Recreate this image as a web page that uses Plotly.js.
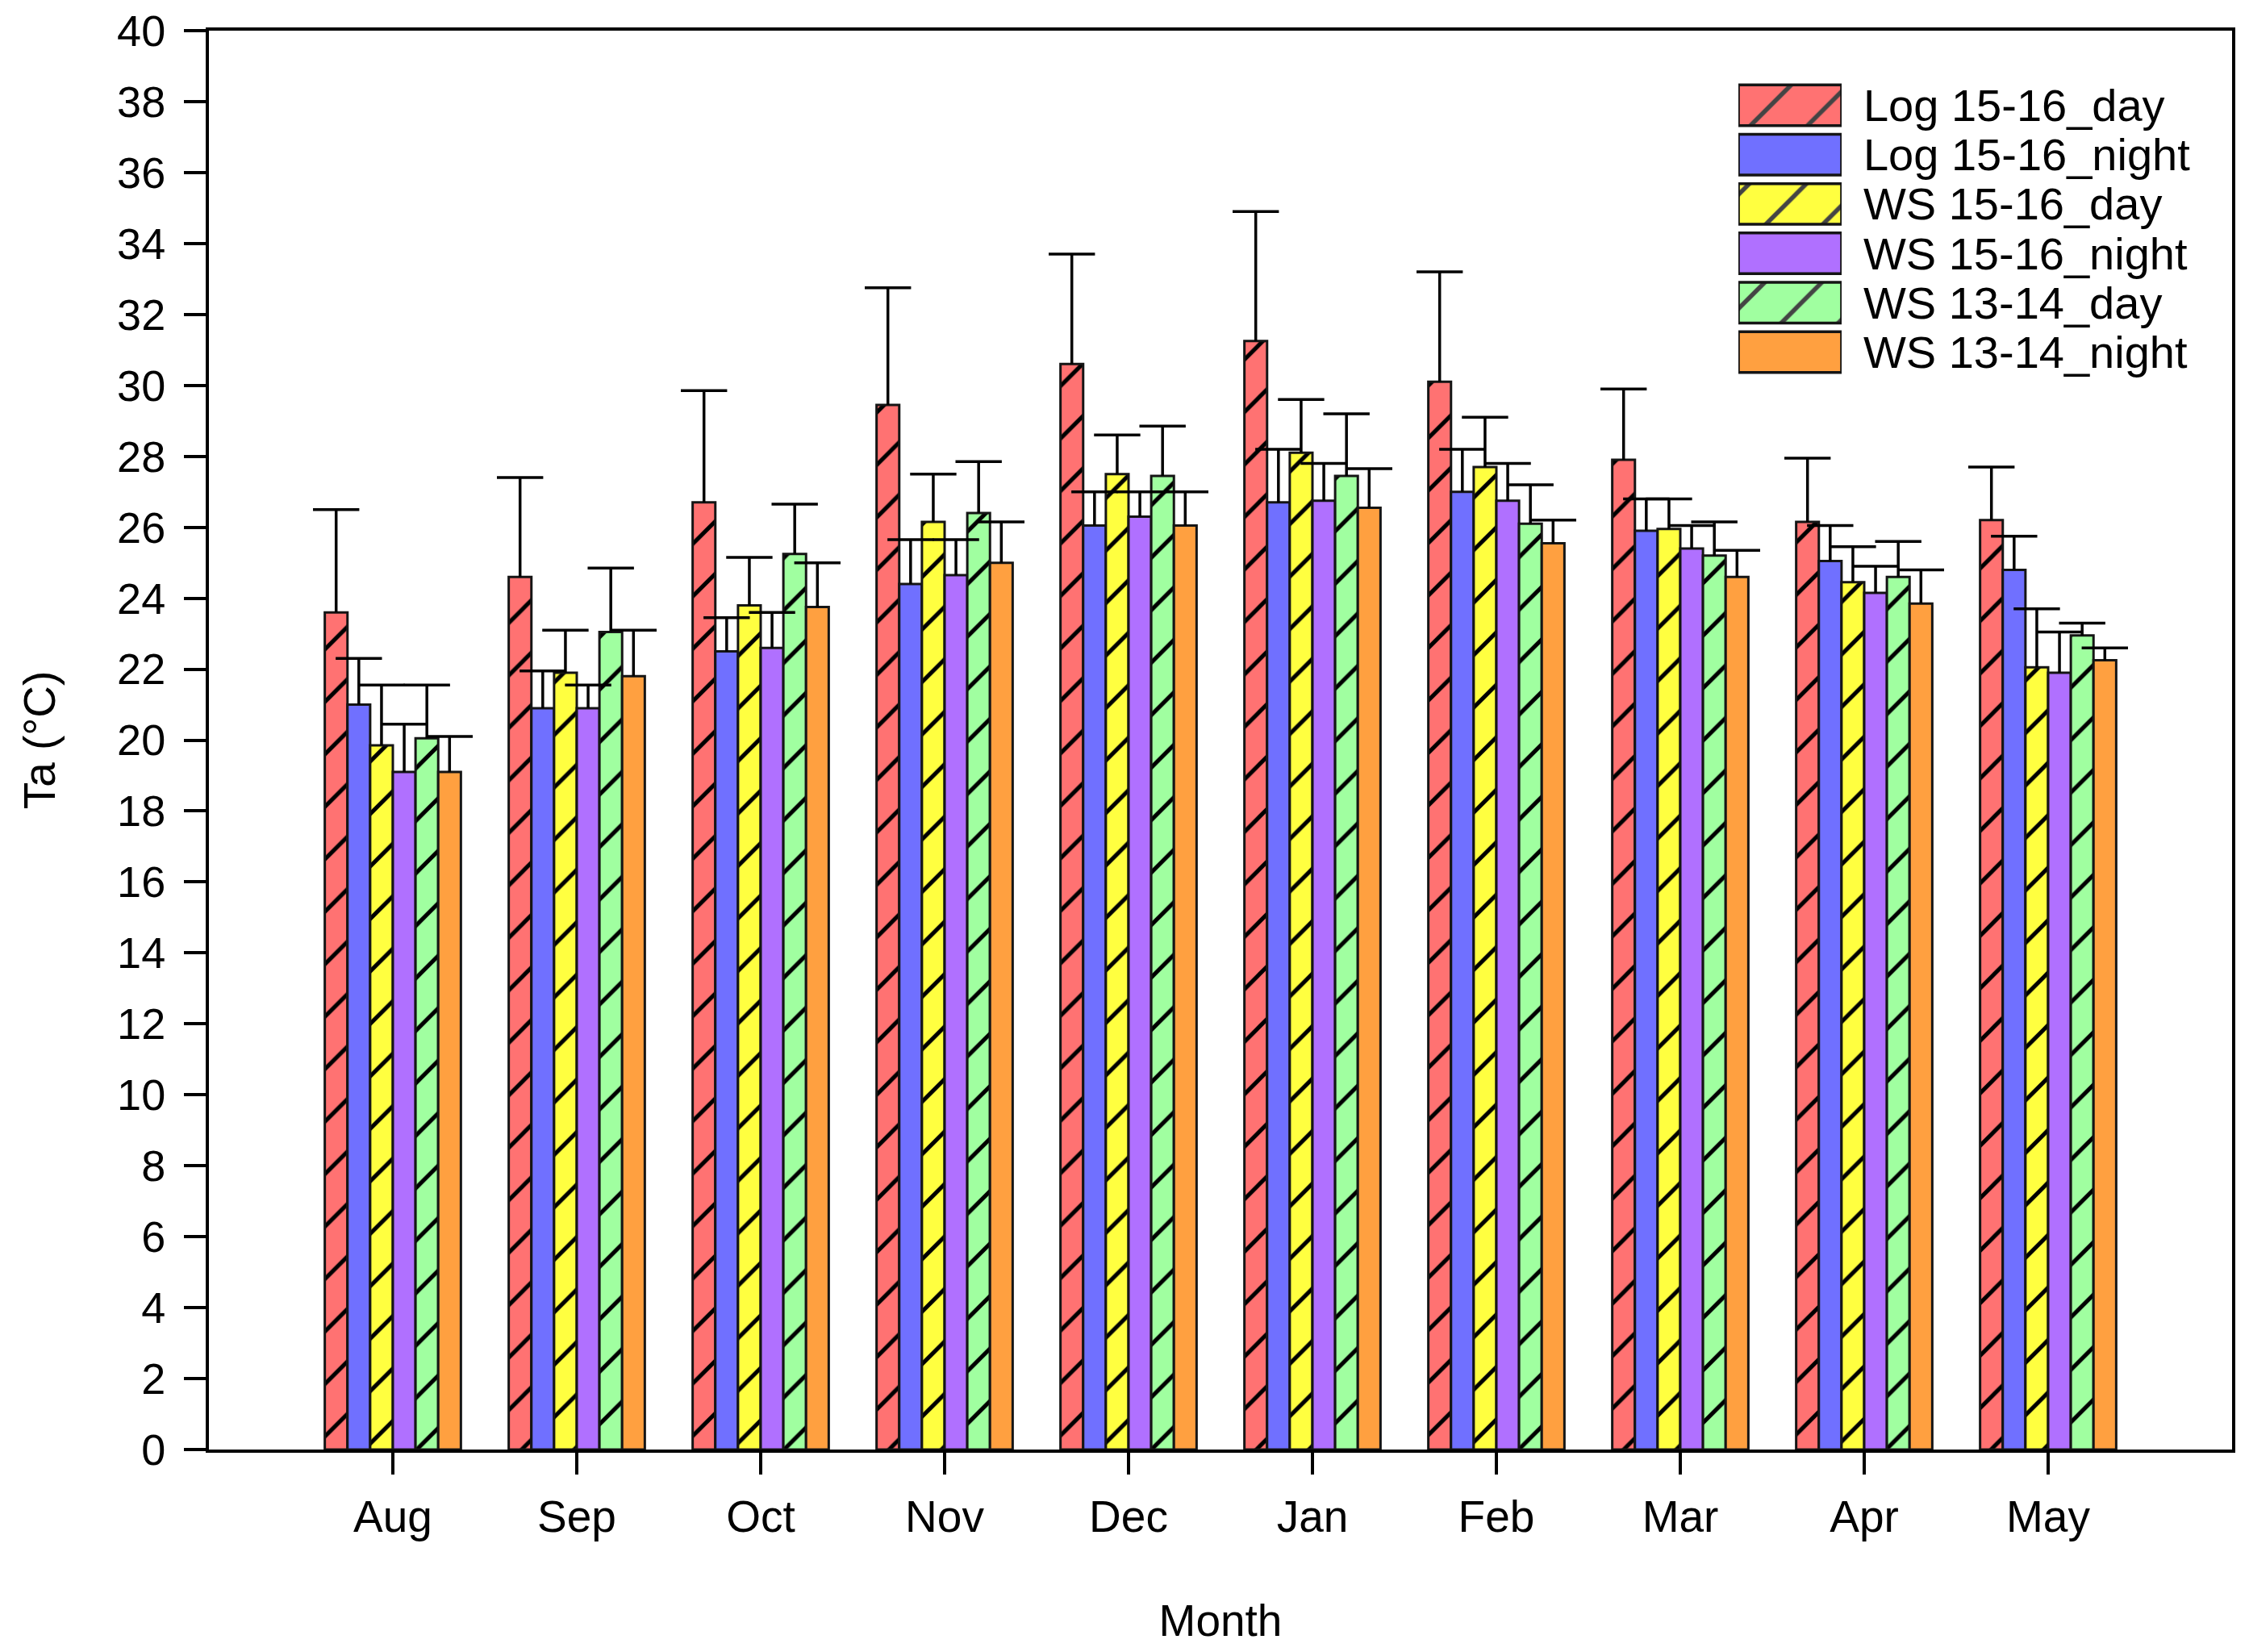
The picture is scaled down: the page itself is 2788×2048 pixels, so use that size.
<!DOCTYPE html>
<html>
<head>
<meta charset="utf-8">
<script src="https://cdn.plot.ly/plotly-3.0.1.min.js"></script>
<style>html,body{margin:0;padding:0;background:#fff;}</style>
</head>
<body>
<div id="chart" style="width:2788px;height:2048px;"></div>
<script>
// ---- data ----
const months = ['Aug','Sep','Oct','Nov','Dec','Jan','Feb','Mar','Apr','May'];
const seriesNames = ['Log 15-16_day','Log 15-16_night','WS 15-16_day','WS 15-16_night','WS 13-14_day','WS 13-14_night'];

const log1516Day     = [23.6, 24.6, 26.7, 29.45, 30.6, 31.25, 30.1, 27.9, 26.15, 26.2];
const log1516DaySD   = [2.9, 2.8, 3.15, 3.3, 3.1, 3.65, 3.1, 2.0, 1.8, 1.5];
const log1516Night   = [21.0, 20.9, 22.5, 24.4, 26.05, 26.7, 27.0, 25.9, 25.05, 24.8];
const log1516NightSD = [1.3, 1.05, 0.95, 1.25, 0.95, 1.5, 1.2, 0.9, 1.0, 0.95];
const ws1516Day      = [19.85, 21.9, 23.8, 26.15, 27.5, 28.1, 27.7, 25.95, 24.45, 22.05];
const ws1516DaySD    = [1.7, 1.2, 1.35, 1.35, 1.1, 1.5, 1.4, 0.85, 1.0, 1.65];
const ws1516Night    = [19.1, 20.9, 22.6, 24.65, 26.3, 26.75, 26.75, 25.4, 24.15, 21.9];
const ws1516NightSD  = [1.35, 0.65, 1.0, 1.0, 0.7, 1.05, 1.05, 0.65, 0.75, 1.15];
const ws1314Day      = [20.05, 23.05, 25.25, 26.4, 27.45, 27.45, 26.1, 25.2, 24.6, 22.95];
const ws1314DaySD    = [1.5, 1.8, 1.4, 1.45, 1.4, 1.75, 1.1, 0.95, 1.0, 0.35];
const ws1314Night    = [19.1, 21.8, 23.75, 25.0, 26.05, 26.55, 25.55, 24.6, 23.85, 22.25];
const ws1314NightSD  = [1.0, 1.3, 1.25, 1.15, 0.95, 1.1, 0.65, 0.75, 0.95, 0.35];

// ---- styles ----
const colors = ['#FF7272','#7070FF','#FFFF40','#B070FF','#A0FFA0','#FFA040'];
const hatched = [true,false,true,false,true,false];
const FONT = 'Liberation Sans, Arial, Helvetica, sans-serif';

const values = [log1516Day, log1516Night, ws1516Day, ws1516Night, ws1314Day, ws1314Night];
const sds = [log1516DaySD, log1516NightSD, ws1516DaySD, ws1516NightSD, ws1314DaySD, ws1314NightSD];

const barTraces = values.map((v, i) => ({
  type: 'bar',
  name: seriesNames[i],
  x: months,
  y: v,
  xaxis: 'x', yaxis: 'y',
  offsetgroup: String(i),
  showlegend: false,
  hoverinfo: 'skip',
  marker: {
    color: colors[i],
    line: {color: '#151515', width: 3},
    pattern: hatched[i]
      ? {shape: '/', fillmode: 'overlay', fgcolor: '#000000', fgopacity: 1, size: 46, solidity: 0.11}
      : {shape: ''}
  }
}));

// upper error whiskers, drawn on top of all bars (grouped like the bars)
const errTraces = values.map((v, i) => ({
  type: 'scatter',
  mode: 'markers',
  x: months,
  y: v.map((m, k) => m + sds[i][k]),
  xaxis: 'x', yaxis: 'y',
  offsetgroup: String(i),
  showlegend: false,
  hoverinfo: 'skip',
  cliponaxis: false,
  marker: {symbol: 'line-ew', size: 41, color: '#000', line: {color: '#000', width: 3.5}},
  error_y: {
    type: 'data', symmetric: false,
    array: sds[i].map(() => 0), arrayminus: sds[i],
    color: '#000000', thickness: 3.5, width: 0
  }
}));

// legend drawn as a small horizontal bar chart
const legendTrace = {
  type: 'bar',
  orientation: 'h',
  x: seriesNames.map(() => 1),
  y: seriesNames,
  width: 0.825,
  xaxis: 'x2', yaxis: 'y2',
  showlegend: false,
  hoverinfo: 'skip',
  marker: {
    color: colors,
    line: {color: '#151515', width: 3.5},
    pattern: {
      shape: hatched.map(h => h ? '/' : ''),
      fillmode: 'overlay', fgcolor: '#000000', fgopacity: 1, size: 50, solidity: 0.11
    }
  }
};

const layout = {
  width: 2788, height: 2048, autosize: false,
  margin: {l: 259, r: 21, t: 38, b: 251, pad: 0},
  paper_bgcolor: '#ffffff', plot_bgcolor: '#ffffff',
  font: {family: FONT, size: 52, color: '#000000'},
  showlegend: false,
  barmode: 'group', bargap: 0.26, bargroupgap: 0,
  scattermode: 'group', scattergap: 0.26,
  xaxis: {
    type: 'category', range: [-1, 10], domain: [0, 1],
    showgrid: false, zeroline: false,
    showline: true, linewidth: 4, linecolor: '#000', mirror: true,
    ticks: 'outside', ticklen: 27, tickwidth: 4, tickcolor: '#000',
    tickfont: {family: FONT, size: 55, color: '#000'},
    ticklabelstandoff: 5,
    title: {text: 'Month', font: {family: FONT, size: 55, color: '#000'}, standoff: 80},
    fixedrange: true
  },
  yaxis: {
    range: [0, 40], dtick: 2, tick0: 0, domain: [0, 1],
    showgrid: false, zeroline: false,
    showline: true, linewidth: 4, linecolor: '#000', mirror: true,
    ticks: 'outside', ticklen: 27, tickwidth: 4, tickcolor: '#000',
    tickfont: {family: FONT, size: 54, color: '#000'},
    ticklabelstandoff: 12,
    title: {text: 'Ta (°C)', font: {family: FONT, size: 55, color: '#000'}, standoff: 60},
    fixedrange: true
  },
  xaxis2: {
    domain: [0.756, 0.807], range: [0, 1], anchor: 'y2',
    visible: false, fixedrange: true
  },
  yaxis2: {
    domain: [0.7561, 0.9648], type: 'category', autorange: 'reversed', anchor: 'x2',
    side: 'right', showline: false, showgrid: false, zeroline: false, ticks: '',
    tickmode: 'array', tickvals: seriesNames, ticktext: seriesNames,
    ticklabelstandoff: 26,
    tickfont: {family: FONT, size: 56, color: '#000'},
    fixedrange: true
  }
};

Plotly.newPlot('chart', [...barTraces, ...errTraces, legendTrace], layout, {staticPlot: true, displayModeBar: false});
</script>
</body>
</html>
